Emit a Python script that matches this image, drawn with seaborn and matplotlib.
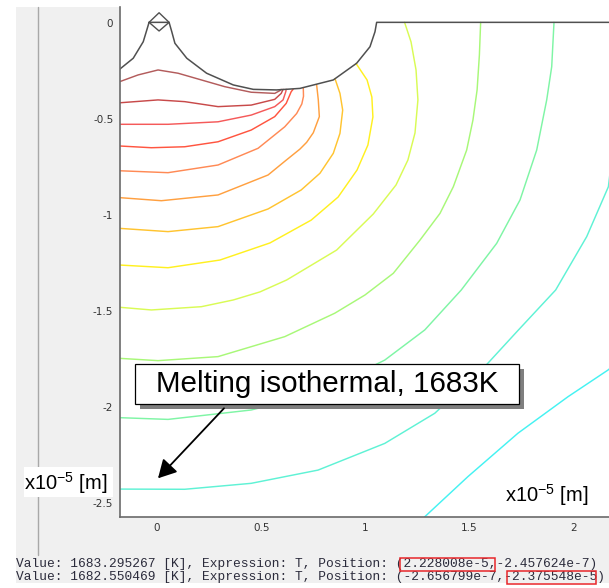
import matplotlib
matplotlib.use("Agg")
import matplotlib.pyplot as plt
import pandas as pd
import seaborn as sns
from matplotlib.patches import Rectangle, FancyArrowPatch
from matplotlib.lines import Line2D

# ---------------- data (units of 1e-5 m) ----------------
iso01 = [(-0.179, -0.304), (-0.091, -0.269), (0.005, -0.243), (0.101, -0.260), (0.213, -0.295),
         (0.325, -0.330), (0.452, -0.359), (0.565, -0.365), (0.589, -0.351), (0.596, -0.344)]
iso02 = [(-0.179, -0.414), (0.005, -0.399), (0.133, -0.408), (0.293, -0.434), (0.452, -0.426),
         (0.565, -0.396), (0.596, -0.365), (0.605, -0.344)]
iso03 = [(-0.179, -0.526), (0.053, -0.526), (0.293, -0.513), (0.452, -0.478), (0.565, -0.434),
         (0.605, -0.399), (0.618, -0.356), (0.620, -0.344)]
iso04 = [(-0.179, -0.639), (-0.027, -0.648), (0.133, -0.643), (0.293, -0.617), (0.452, -0.556),
         (0.565, -0.486), (0.620, -0.417), (0.644, -0.356), (0.653, -0.344)]
iso05 = [(-0.179, -0.768), (0.053, -0.778), (0.293, -0.738), (0.485, -0.651), (0.613, -0.539),
         (0.670, -0.470), (0.695, -0.420), (0.703, -0.380), (0.702, -0.337)]
iso06 = [(-0.179, -0.908), (0.021, -0.924), (0.293, -0.894), (0.533, -0.790), (0.614, -0.718),
         (0.686, -0.655), (0.718, -0.620), (0.750, -0.570), (0.779, -0.486), (0.774, -0.399),
         (0.766, -0.320)]
iso07 = [(-0.179, -1.068), (0.053, -1.085), (0.293, -1.059), (0.533, -0.967), (0.692, -0.868),
         (0.782, -0.781), (0.846, -0.677), (0.878, -0.573), (0.891, -0.452), (0.878, -0.365),
         (0.854, -0.288)]
iso08 = [(-0.179, -1.259), (0.053, -1.273), (0.302, -1.233), (0.542, -1.144), (0.740, -1.025),
         (0.869, -0.905), (0.960, -0.764), (1.012, -0.634), (1.036, -0.488), (1.031, -0.384),
         (1.008, -0.295), (0.955, -0.209)]
iso09 = [(-0.179, -1.479), (-0.027, -1.493), (0.213, -1.476), (0.366, -1.441), (0.494, -1.399),
         (0.622, -1.337), (0.862, -1.181), (1.038, -0.993), (1.147, -0.842), (1.204, -0.712),
         (1.238, -0.571), (1.252, -0.399), (1.243, -0.243), (1.219, -0.097), (1.188, 0.005)]
iso10 = [(-0.179, -1.745), (0.005, -1.757), (0.293, -1.736), (0.613, -1.632), (0.853, -1.510),
         (0.998, -1.415), (1.134, -1.302), (1.262, -1.129), (1.358, -0.990), (1.422, -0.851),
         (1.486, -0.660), (1.516, -0.504), (1.536, -0.347), (1.547, -0.165), (1.553, 0.005)]
iso11 = [(-0.179, -2.054), (0.053, -2.063), (0.452, -2.014), (0.773, -1.927), (1.093, -1.754),
         (1.285, -1.597), (1.460, -1.389), (1.630, -1.146), (1.742, -0.920), (1.822, -0.660),
         (1.870, -0.399), (1.894, -0.226), (1.905, 0.005)]
iso12 = [(-0.179, -2.426), (0.133, -2.427), (0.452, -2.396), (0.773, -2.327), (1.093, -2.188),
         (1.333, -2.031), (1.572, -1.789), (1.732, -1.600), (1.913, -1.389), (2.062, -1.111),
         (2.166, -0.851), (2.210, -0.450), (2.228, 0.005)]
iso13 = [(1.240, -2.620), (1.285, -2.570), (1.492, -2.361), (1.732, -2.135), (1.972, -1.945),
         (2.164, -1.806), (2.250, -1.730)]

boundary = [(-0.180, -0.240), (-0.114, -0.182), (-0.066, -0.096), (-0.049, -0.035), (-0.038, 0.005),
            (0.058, 0.005), (0.071, -0.044), (0.086, -0.104), (0.143, -0.182), (0.238, -0.260),
            (0.366, -0.321), (0.462, -0.344), (0.574, -0.347), (0.686, -0.339), (0.846, -0.295),
            (0.958, -0.208), (1.022, -0.122), (1.046, -0.044), (1.054, 0.005), (2.300, 0.005)]
probe_marker = [(-0.038, 0.005), (0.010, 0.055), (0.058, 0.005), (0.010, -0.040), (-0.038, 0.005)]

iso_names = ["L01", "L02", "L03", "L04", "L05", "L06", "L07", "L08", "L09", "L10", "L11", "L12", "L13"]
iso_colors = ["#b35c5c", "#c84a4a", "#f55a5a", "#ff5540", "#ff8a55", "#ffa040", "#ffc430",
              "#fff020", "#d9fb55", "#a8f878", "#7ff5a5", "#5ff2d5", "#45f2f2"]

x_ticks = [0, 0.5, 1, 1.5, 2]
x_tick_labels = ["0", "0.5", "1", "1.5", "2"]
y_ticks = [0, -0.5, -1, -1.5, -2, -2.5]
y_tick_labels = ["0", "-0.5", "-1", "-1.5", "-2", "-2.5"]

callout_text = "Melting isothermal, 1683K"
unit_text = r"x10$^{-5}$ [m]"
probe_lines = ["Value: 1683.295267 [K], Expression: T, Position: (2.228008e-5,-2.457624e-7)",
               "Value: 1682.550469 [K], Expression: T, Position: (-2.656799e-7,-2.375548e-5)"]

# ---------------- figure ----------------
sns.set_style("white")
plt.rcParams["font.family"] = ["Liberation Sans", "DejaVu Sans"]
plt.rcParams["mathtext.default"] = "regular"

W, H = 609, 588
fig = plt.figure(figsize=(W / 100, H / 100), dpi=100, facecolor="white")


def fx(px):
    return px / W


def fy(py):
    return 1 - py / H


def rect_px(x0, y0, x1, y1, **kw):
    return Rectangle((fx(x0), fy(y1)), fx(x1) - fx(x0), fy(y0) - fy(y1),
                     transform=fig.transFigure, **kw)


# GUI grey panel and separator
fig.add_artist(rect_px(15.5, 6.7, 609, 583, facecolor="#f0f0f0", edgecolor="none", zorder=-2))
fig.add_artist(Line2D([fx(37.5), fx(37.5)], [fy(6.7), fy(555)], transform=fig.transFigure,
                      color="#a8a8a8", lw=1.0, zorder=-1))

ax = fig.add_axes([fx(119.5), fy(516.7), fx(609) - fx(119.5), fy(6.7) - fy(516.7)])
ax.set_facecolor("white")

rows = []
for name, pts in zip(iso_names, [iso01, iso02, iso03, iso04, iso05, iso06, iso07,
                                  iso08, iso09, iso10, iso11, iso12, iso13]):
    for x, y in pts:
        rows.append({"x": x, "y": y, "level": name})
df = pd.DataFrame(rows)

sns.lineplot(data=df, x="x", y="y", hue="level", palette=dict(zip(iso_names, iso_colors)),
             sort=False, estimator=None, legend=False, lw=1.05, ax=ax)

bdf = pd.DataFrame(boundary, columns=["x", "y"])
sns.lineplot(data=bdf, x="x", y="y", sort=False, estimator=None, color="#505050", lw=1.1, ax=ax)
mdf = pd.DataFrame(probe_marker, columns=["x", "y"])
sns.lineplot(data=mdf, x="x", y="y", sort=False, estimator=None, color="#505050", lw=1.0, ax=ax)

ax.set_xlim(-0.1799, 2.1689)
ax.set_ylim(-2.5698, 0.0865)
ax.set_xlabel("")
ax.set_ylabel("")
ax.set_xticks(x_ticks, x_tick_labels)
ax.set_yticks(y_ticks, y_tick_labels)
ax.tick_params(length=0, labelsize=7.5, labelcolor="#333333", pad=4.5)
for lab in ax.get_xticklabels() + ax.get_yticklabels():
    lab.set_fontfamily("DejaVu Sans")
for side in ["top", "right"]:
    ax.spines[side].set_visible(False)
for side in ["left", "bottom"]:
    ax.spines[side].set_color("#6a6a6a")
    ax.spines[side].set_linewidth(1.2)

# callout with shadow
fig.add_artist(rect_px(139.7, 369, 524, 409.3, facecolor="#7f7f7f", edgecolor="none", zorder=3))
fig.add_artist(rect_px(134.7, 364, 519, 404.3, facecolor="white", edgecolor="black", lw=0.9, zorder=4))
fig.text(fx(327), fy(391.7), callout_text, ha="center", va="baseline", fontsize=21.3,
         color="black", zorder=5)
fig.add_artist(FancyArrowPatch((fx(224), fy(408.3)), (fx(158), fy(478.3)), transform=fig.transFigure,
                               arrowstyle="-|>,head_length=0.55,head_width=0.3", mutation_scale=20,
                               color="black", lw=1.3, shrinkA=0, shrinkB=0, zorder=5))

# unit labels
fig.add_artist(rect_px(24, 467, 113, 497, facecolor="white", edgecolor="none", zorder=1))
fig.text(fx(24), fy(490), unit_text, ha="left", va="baseline", fontsize=14.5, color="black", zorder=2)
fig.text(fx(504.7), fy(502), unit_text, ha="left", va="baseline", fontsize=14.5, color="black", zorder=5)

# probe readouts
for i, line in enumerate(probe_lines):
    fig.text(fx(15.6), fy(564 + 13.3 * i), line, ha="left", va="center", fontsize=9.3,
             family="Liberation Mono", color="#2b2b3b", zorder=2)
fig.add_artist(rect_px(399.6, 558.3, 495, 571, facecolor="none", edgecolor="#e8262a", lw=1.1, zorder=3))
fig.add_artist(rect_px(506.6, 571, 596, 584, facecolor="none", edgecolor="#e8262a", lw=1.1, zorder=3))

fig.savefig("out.png", dpi=100, facecolor=fig.get_facecolor())
